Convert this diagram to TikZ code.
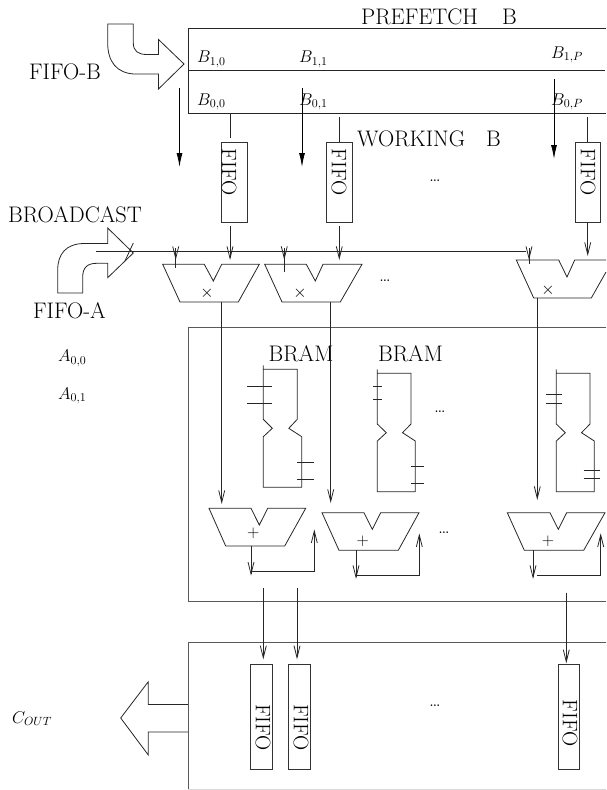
\documentclass[tikz,border=0pt]{standalone}
\usepackage{fix-cm}
\usetikzlibrary{arrows.meta}
\tikzset{
  x=1pt,y=-1pt,
  ln/.style={line width=0.8pt,draw=black!85,line join=miter},
  frame/.style={line width=0.95pt,draw=black!65},
  arr/.style={ln,-{Straight Barb[length=12pt,width=6pt,line width=0.8pt]}},
  bigarr/.style={line width=0.9pt,draw=black,-{Latex[length=14pt,width=6pt]}},
  fifobox/.style={draw=black!80,line width=0.8pt,minimum width=25.5pt,minimum height=80pt,inner sep=0pt,outer sep=0pt},
  fifolow/.style={draw=black!80,line width=0.8pt,minimum width=21.5pt,minimum height=105pt,inner sep=0pt,outer sep=0pt},
  big/.style={inner sep=0pt,font=\fontsize{22.5}{27}\selectfont},
  fifotext/.style={inner sep=0pt,rotate=-90,font=\fontsize{21}{25}\selectfont},
  mth/.style={inner sep=0pt,anchor=base west,font=\fontsize{17}{20}\selectfont},
  dotsl/.style={inner sep=0pt,font=\fontsize{20}{24}\selectfont},
  sym/.style={inner sep=0pt,font=\fontsize{17}{20}\selectfont}
}
\newcommand{\bramshape}[8]{% xl, xr, xrr, top, ntop, nmid, nbot, bottom
  \draw[ln] (#1,#4-4) -- (#1,#4) -- (#2,#4) -- (#2,#5) -- (#2-8.5,#6) -- (#3,#7) -- (#3,#8) -- (#1,#8) -- (#1,#7) -- (#1+9,#6) -- (#1,#5) -- cycle;
}
\begin{document}
\begin{tikzpicture}
\useasboundingbox (0,0) rectangle (606,790);
% prefetch register
\draw[ln] (606,28.5) -- (188,28.5) -- (188,113) -- (606,113);
\draw[ln] (188,70.5) -- (605,70.5);
\node[big,anchor=base west] (prefetch) at (361,24) {PREFETCH\hspace{24pt}B};
\node[big,anchor=base west] (working) at (357,146.7) {WORKING\hspace{21pt}B};
\node[big,anchor=base west] (fifob) at (29,79) {FIFO-B};
\node[big,anchor=base west] (broadcast) at (8,222.3) {BROADCAST};
\node[big,anchor=base west] (fifoa) at (33,318.5) {FIFO-A};
\node[mth] (b10) at (197,62.5) {$B_{1,0}$};
\node[mth] (b11) at (299,62.5) {$B_{1,1}$};
\node[mth] (b1p) at (551,58.3) {$B_{1,P}$};
\node[mth] (b00) at (197,105) {$B_{0,0}$};
\node[mth] (b01) at (299,105) {$B_{0,1}$};
\node[mth] (b0p) at (551,105) {$B_{0,P}$};
\node[mth] (a00) at (58,361.7) {$A_{0,0}$};
\node[mth] (a01) at (58,399.3) {$A_{0,1}$};
\node[mth] (cout) at (12,723) {$C_{OUT}$};
% block arrows
\draw[ln] (107.7,24) -- (133.3,24) -- (133.3,43) .. controls (133.3,51) and (138,54.5) .. (147,54.5) -- (158.5,54.5) -- (158.5,39.5) -- (184,64) -- (158.5,89) -- (158.5,74) -- (134,74) .. controls (117,73) and (107.7,62) .. (107.7,43) -- cycle;
\draw[ln] (57.7,293) -- (82.7,293) -- (82.7,277) .. controls (82.7,268) and (87,263.3) .. (96.7,263.3) -- (107.7,263.3) -- (107.7,277.7) -- (133.3,253) -- (107.7,228) -- (107.7,243.5) -- (83.3,243.5) .. controls (66,244) and (57.7,254) .. (57.7,270) -- cycle;
\draw[ln] (188,704.5) -- (148.3,704.5) -- (148.3,681.7) -- (120.7,718) -- (148.3,755) -- (148.3,732) -- (188,732);
% long filled arrows
\coordinate (l1s) at (179.5,88); \coordinate (l1e) at (179.5,167);
\coordinate (l2s) at (302,88); \coordinate (l2e) at (302,167);
\coordinate (l3s) at (554,79); \coordinate (l3e) at (554,159);
\draw[bigarr] (l1s) -- (l1e);
\draw[bigarr] (l2s) -- (l2e);
\draw[bigarr] (l3s) -- (l3e);
% upper FIFOs
\node[fifobox] (f1) at (234.5,182) {};
\node[fifobox] (f2) at (339.3,182) {};
\node[fifobox] (f3) at (587.7,182) {};
\node[fifotext] (f1t) at (229,172) {FIFO};
\node[fifotext] (f2t) at (339,172) {FIFO};
\node[fifotext] (f3t) at (588,172) {FIFO};
\coordinate (p1) at (230,113); \coordinate (p2) at (339.3,117); \coordinate (p3) at (587.7,117);
\draw[ln] (p1) -- (230,138);
\draw[ln] (p2) -- (f2.north);
\draw[ln] (p3) -- (f3.north);
\draw[arr] (230,226) -- (230,260);
\draw[arr] (339.3,226) -- (339.3,260);
\draw[arr] (f3.south) -- (587.7,256);
\node[dotsl] (d1) at (435,181) {\dots};
% broadcast bus
\coordinate (bs) at (96,251.5); \coordinate (be) at (526,251.5);
\draw[ln] (bs) -- (be);
\draw[ln] (125,261) -- (133.3,243);
\draw[arr] (175.7,248) -- (175.7,260);
\draw[ln] (175.7,255) -- (175.7,268);
\draw[arr] (284.3,248) -- (284.3,260);
\draw[ln] (284.3,255) -- (284.3,272);
\draw[arr] (529,248) -- (529,260);
\draw[ln] (529,255) -- (529,264);
% multipliers
\draw[ln] (162.7,264.3) -- (204.3,264.3) -- (213.3,281) -- (221.7,264.3) -- (259.3,264.3) -- (238.3,302) -- (180,302) -- cycle;
\draw[ln] (264.7,264.3) -- (306.3,264.3) -- (315.3,281) -- (323,264.3) -- (362,264.3) -- (340.3,302) -- (282,302) -- cycle;
\draw[ln] (606,272) -- (591.3,298) -- (533.7,298) -- (516.3,260) -- (558.7,260) -- (567,277) -- (574.7,260) -- (606,260);
\node[sym] (m1) at (207,293.5) {$\times$};
\node[sym] (m2) at (300,293.5) {$\times$};
\node[sym] (m3) at (548,290) {$\times$};
\node[dotsl] (d2) at (385,281) {\dots};
% BRAM box
\draw[frame] (606,327) -- (188,327) -- (188,601) -- (606,601);
\node[big,anchor=base west] (br1) at (268.5,361) {BRAM};
\node[big,anchor=base west] (br2) at (378,361) {BRAM};
\bramshape{263.3}{297.3}{301.7}{369.3}{419.3}{428.3}{436.7}{487.3}
\bramshape{377.3}{411}{415.3}{373.3}{424}{432.7}{441}{491.7}
\bramshape{556.3}{590}{594.3}{373.3}{424}{432.7}{441}{491.7}
\draw[ln] (247,386.3) -- (271.7,386.3) (247,403) -- (271.7,403) (297.3,462) -- (314,462) (297.3,479) -- (314,479);
\draw[ln] (373,386.3) -- (381.7,386.3) (373,399) -- (381.7,399) (411,466) -- (423.7,466) (411,483) -- (423.7,483);
\draw[ln] (545.7,394.7) -- (562.3,394.7) (545.7,403) -- (562.3,403) (583.7,470.3) -- (600.3,470.3) (583.7,478.7) -- (600.3,478.7);
\node[dotsl] (d3) at (440,412) {\dots};
% multiplier outputs
\draw[arr] (221.7,302) -- (221.7,504);
\draw[arr] (330.7,302) -- (330.7,503);
\draw[arr] (537.3,298) -- (537.3,500);
% adders
\draw[ln] (209,508.3) -- (251,508.3) -- (259.3,525) -- (267.7,508.3) -- (305.7,508.3) -- (284.7,546) -- (225.7,546) -- cycle;
\draw[ln] (322,512.7) -- (364,512.7) -- (372.3,529.3) -- (380.7,512.7) -- (419,512.7) -- (398.3,550.3) -- (339,550.3) -- cycle;
\draw[ln] (507.3,512.7) -- (550,512.7) -- (558.3,529.3) -- (566.7,512.7) -- (605,512.7) -- (583.7,550.3) -- (524.3,550.3) -- cycle;
\node[sym] (s1) at (253.3,533.3) {$+$};
\node[sym] (s2) at (362.7,541.7) {$+$};
\node[sym] (s3) at (548,541.7) {$+$};
\node[dotsl] (d4) at (444,533) {\dots};
\draw[arr] (251,546) -- (251,575.7);
\draw[arr] (251.7,571.3) -- (314.3,571.3) -- (314.3,529.3);
\draw[arr] (356,550.3) -- (356,579);
\draw[arr] (356,575.7) -- (419.3,575.7) -- (419.3,533.3);
\draw[arr] (533,550.3) -- (533,579);
\draw[arr] (537.3,575.7) -- (600.7,575.7) -- (600.7,533.3);
% output box
\draw[frame] (606,642.7) -- (188,642.7) -- (188,789.5);
\draw[line width=0.8pt,draw=black!15] (188,789.5) -- (606,789.5);
\node[fifolow] (g1) at (261.5,716.7) {};
\node[fifolow] (g2) at (299.5,716.7) {};
\node[fifolow] (g3) at (568.8,716.7) {};
\node[fifotext] (g1t) at (263,727.7) {FIFO};
\node[fifotext] (g2t) at (301,727.7) {FIFO};
\node[fifotext] (g3t) at (570,723) {FIFO};
\draw[arr] (263.3,588) -- (263.3,659.3);
\draw[arr] (297,588) -- (297,659.3);
\draw[arr] (566.3,592.7) -- (566.3,663.3);
\node[dotsl] (d5) at (435,706) {\dots};
\end{tikzpicture}
\end{document}
